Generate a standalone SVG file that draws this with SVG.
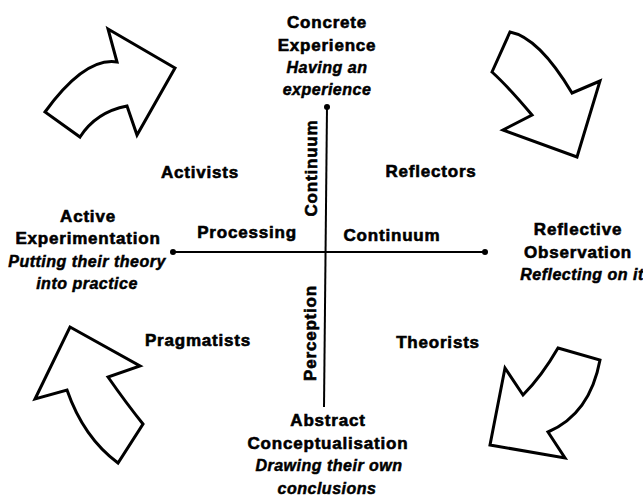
<svg xmlns="http://www.w3.org/2000/svg" width="643" height="502" viewBox="0 0 643 502">
<style>
.arrow{fill:#fff;stroke:#000;stroke-width:3;stroke-linejoin:miter}
.axis{stroke:#000;stroke-width:2;fill:none}
.t{font-family:"Liberation Sans",Arial,sans-serif;font-weight:bold;font-size:17px;letter-spacing:0.8px;text-anchor:middle;fill:#000;stroke:#000;stroke-width:0.6px}
.i{font-family:"Liberation Sans",Arial,sans-serif;font-weight:bold;font-style:italic;font-size:16px;letter-spacing:0.5px;text-anchor:middle;fill:#000;stroke:#000;stroke-width:0.5px}
</style>
<rect width="643" height="502" fill="#fff"/>
<g id="cycle-arrows">
<path id="arrow-tl" class="arrow" d="M108,29 L175,68 L137,135 L127,106 Q96,112 80,137 L45,112 Q85,57 117,62 Z"/>
<path id="arrow-tr" class="arrow" d="M510,32 Q539,37.5 572,93 L600,81 L577,157 L503,130 L532,115 Q508,86.5 492,72 Z"/>
<path id="arrow-bl" class="arrow" d="M70,327 L140,366 L108,377 Q126.5,403.5 143,424 L118,463 Q83.5,437.5 67,390 L35,399 Z"/>
<path id="arrow-br" class="arrow" d="M558,348 L600,360 Q590,414 548,432 L565,458 L490,445 L505,368 L523,395 Q541.5,376.5 558,348 Z"/>
</g>
<g id="connectors">
<line class="axis" x1="327" y1="107" x2="324" y2="407"/>
<line class="axis" x1="173" y1="252" x2="485" y2="252"/>
<circle cx="327" cy="107" r="3"/>
<circle cx="173" cy="252" r="3"/>
<circle cx="485" cy="252" r="3"/>
</g>
<g id="node-concrete">
<text class="t" x="327" y="28">Concrete</text>
<text class="t" x="327" y="51">Experience</text>
<text class="i" x="327" y="73">Having an</text>
<text class="i" x="327" y="95">experience</text>
</g>
<g id="node-active">
<text class="t" x="88" y="222">Active</text>
<text class="t" x="88" y="244">Experimentation</text>
<text class="i" x="87" y="267">Putting their theory</text>
<text class="i" x="87" y="289">into practice</text>
</g>
<g id="node-reflective">
<text class="t" x="578" y="235">Reflective</text>
<text class="t" x="578" y="258">Observation</text>
<text class="i" x="582" y="280">Reflecting on it</text>
</g>
<g id="node-abstract">
<text class="t" x="328" y="426">Abstract</text>
<text class="t" x="328" y="449">Conceptualisation</text>
<text class="i" x="329" y="471">Drawing their own</text>
<text class="i" x="327" y="494">conclusions</text>
</g>
<g id="labels">
<text class="t" x="200" y="178">Activists</text>
<text class="t" x="431" y="177">Reflectors</text>
<text class="t" x="247" y="238">Processing</text>
<text class="t" x="392" y="241">Continuum</text>
<text class="t" x="198" y="346">Pragmatists</text>
<text class="t" x="438" y="348">Theorists</text>
<text class="t" transform="translate(317,168) rotate(-90)" x="0" y="0">Continuum</text>
<text class="t" transform="translate(316,333) rotate(-90)" x="0" y="0">Perception</text>
</g>
</svg>
